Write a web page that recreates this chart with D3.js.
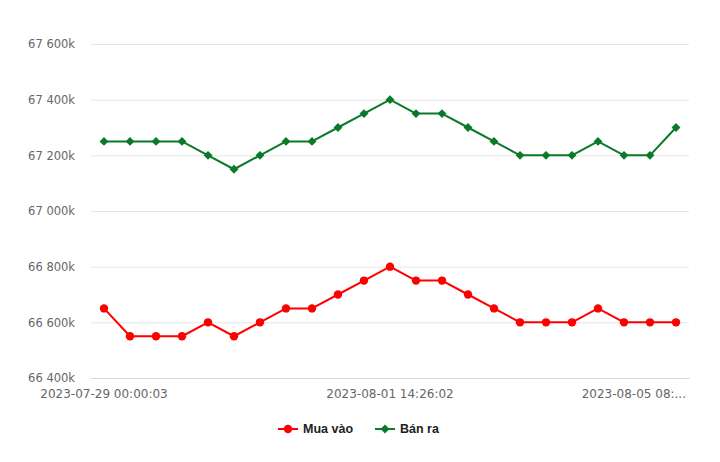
<!DOCTYPE html>
<html><head><meta charset="utf-8">
<script src="https://cdn.jsdelivr.net/npm/d3@7/dist/d3.min.js"></script>
<style>body{margin:0;background:#fff}svg{display:block}</style>
</head><body><svg id="c" width="720" height="462"></svg>
<script>
const categories = d3.range(23);
const xTickIndex = [0, 11, 22];
const xTickLabels = ["2023-07-29 00:00:03", "2023-08-01 14:26:02", "2023-08-05 08:..."];
const muaVao = [66650,66550,66550,66550,66600,66550,66600,66650,66650,66700,66750,66800,66750,66750,66700,66650,66600,66600,66600,66650,66600,66600,66600];
const banRa  = [67250,67250,67250,67250,67200,67150,67200,67250,67250,67300,67350,67400,67350,67350,67300,67250,67200,67200,67200,67250,67200,67200,67300];
const yTicks = [66400,66600,66800,67000,67200,67400,67600];
const seriesNames = ["Mua vào", "Bán ra"];
const colors = ["#ff0000", "#0a7a2a"];

const svg = d3.select("#c");
const L = 91, R = 689, T = 44, B = 378;
const x = d3.scaleBand().domain(categories).range([L, R]);
const xc = i => x(i) + x.bandwidth() / 2;
const y = d3.scaleLinear().domain([66400, 67600]).range([B, T]);
const font = "'DejaVu Sans', Verdana, sans-serif";

// grid + y axis
const yAxis = d3.axisLeft(y).tickValues(yTicks).tickSize(-(R - L)).tickPadding(16)
  .tickFormat(d => d3.format(",")(d).replace(/,/g, " ") + "k");
const ya = svg.append("g").attr("transform", `translate(${L},0)`).call(yAxis);
ya.select(".domain").remove();
ya.selectAll(".tick line").attr("stroke", "#e6e6e6");
ya.selectAll(".tick text").attr("fill", "#666").style("font", `11.5px ${font}`);

// x axis
const xAxis = d3.axisBottom(x).tickValues(xTickIndex).tickSize(0).tickPadding(11)
  .tickFormat((d, i) => xTickLabels[i]);
const xa = svg.append("g").attr("transform", `translate(0,${B})`).call(xAxis);
xa.select(".domain").attr("stroke", "#ccd6eb");
xa.selectAll(".tick text").attr("fill", "#666").style("font", `12px ${font}`);
xa.selectAll(".tick").filter(d => d === 22).select("text").attr("text-anchor", "end").attr("x", 10);

// lines
const data = [muaVao, banRa];
const line = d3.line().x((d, i) => xc(i)).y(d => y(d));
data.forEach((s, k) => {
  svg.append("path").datum(s).attr("d", line).attr("fill", "none")
    .attr("stroke", colors[k]).attr("stroke-width", 2).attr("stroke-linejoin", "round");
  if (k === 0) {
    svg.append("g").selectAll("circle").data(s).join("circle")
      .attr("cx", (d, i) => xc(i)).attr("cy", d => y(d)).attr("r", 4.2).attr("fill", colors[k]);
  } else {
    svg.append("g").selectAll("path").data(s).join("path")
      .attr("d", d3.symbol(d3.symbolDiamond2, 50)())
      .attr("transform", (d, i) => `translate(${xc(i)},${y(d)})`).attr("fill", colors[k]);
  }
});

// legend
const lg = svg.append("g");
const lx = [278, 375];
seriesNames.forEach((n, k) => {
  const g = lg.append("g").attr("transform", `translate(${lx[k]},429)`);
  g.append("line").attr("x1", 0).attr("x2", 20).attr("stroke", colors[k]).attr("stroke-width", 2);
  if (k === 0) g.append("circle").attr("cx", 10).attr("r", 4.2).attr("fill", colors[k]);
  else g.append("path").attr("d", d3.symbol(d3.symbolDiamond2, 50)()).attr("transform", "translate(10,0)").attr("fill", colors[k]);
  g.append("text").attr("x", 25).attr("dy", "0.35em").attr("fill", "#222")
    .style("font", `bold 12.5px 'Liberation Sans', Arial, sans-serif`).text(n);
});
</script></body></html>
